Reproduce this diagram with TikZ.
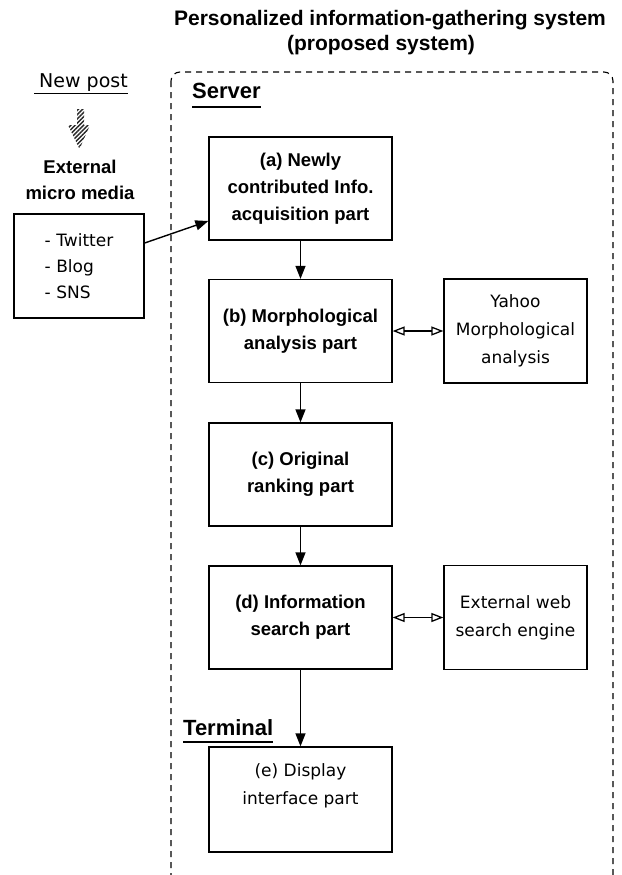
\documentclass[tikz,border=0pt]{standalone}
\usepackage{fontspec}
\setmainfont{Liberation Sans}
\newfontfamily\regfont{DejaVu Sans}
\usetikzlibrary{arrows.meta,patterns.meta}
\newcommand\btxt{\fontsize{18.5}{27}\selectfont\bfseries}
\newcommand\rtxt{\regfont\fontsize{17}{28}\selectfont}
\begin{document}
\begin{tikzpicture}[x=1pt,y=-1pt,
  ttl/.style={font=\fontsize{21}{25}\selectfont\bfseries, inner sep=0pt},
  hdr/.style={font=\fontsize{22}{26}\selectfont\bfseries, inner sep=0pt},
  mainbox/.style={draw, line width=1.3pt, minimum width=183pt, minimum height=103pt, inner sep=0pt, align=center, font=\btxt},
  sidebox/.style={draw, line width=1.3pt, minimum width=143pt, minimum height=104pt, inner sep=0pt, align=center, font=\rtxt},
  arr/.style={line width=1.4pt, -{Triangle[length=13pt,width=10pt]}},
  darr/.style={line width=1.3pt, {Triangle[open,length=12pt,width=9pt]}-{Triangle[open,length=12pt,width=9pt]}},
  frame/.style={line width=1.1pt, dash pattern=on 6pt off 5pt, rounded corners=9pt}
]
\clip (0,0) rectangle (621,875);
\fill[white] (0,0) rectangle (621,875);

% title
\node[ttl] (t1) at (390,20) {Personalized information-gathering system};
\node[ttl] (t2) at (381,45) {(proposed system)};

% dashed system frame
\draw[frame] (171,72) rectangle (613,888);

% headers
\node[hdr, anchor=base west] (server) at (192,98) {Server};
\draw[line width=2.5pt] ([yshift=-9pt]server.base west) -- ([yshift=-9pt]server.base east);
\node[hdr, anchor=base west] (terminal) at (183,735) {Terminal};
\draw[line width=2.5pt] ([yshift=-7pt]terminal.base west) -- ([yshift=-7pt]terminal.base east);

% left column
\node[font=\regfont\fontsize{19}{24}\selectfont, inner sep=0pt, anchor=base] (newpost) at (83.5,88) {New post};
\draw[line width=0.9pt] ([xshift=-5pt,yshift=-5pt]newpost.base west) -- ([yshift=-5pt]newpost.base east);
\fill[pattern={Lines[angle=45,distance=3pt,line width=1.5pt]}, pattern color=black!85]
  (77,109) -- (84,109) -- (84,125) -- (90,125) -- (79.5,149) -- (68,125) -- (77,125) -- cycle;
\node[font=\fontsize{18.5}{26}\selectfont\bfseries, align=center, inner sep=0pt] (ext) at (80,180) {External\\micro media};
\node[draw, line width=1.3pt, minimum width=130pt, minimum height=104pt, inner sep=0pt, align=left, font=\regfont\fontsize{17}{26}\selectfont] (lb) at (79,266) {- Twitter\\- Blog\\- SNS};

% main boxes
\node[mainbox] (a) at (300.5,188.5) {(a) Newly\\contributed Info.\\acquisition part};
\node[mainbox] (b) at (300.5,331) {(b) Morphological\\analysis part};
\node[mainbox] (c) at (300.5,474.5) {(c) Original\\ranking part};
\node[mainbox] (d) at (300.5,617.5) {(d) Information\\search part};
\node[mainbox, font=\rtxt, minimum height=105pt] (e) at (300.5,799.5) {(e) Display\\interface part\\[3pt]~};

% side boxes
\node[sidebox] (yahoo) at (515.5,331) {Yahoo\\Morphological\\analysis};
\node[sidebox] (web) at (515.5,617.5) {External web\\search engine};

% connectors
\draw[arr] ([yshift=23pt]lb.east) -- ([yshift=-32.5pt]a.west);
\draw[arr] (a) -- (b);
\draw[arr] (b) -- (c);
\draw[arr] (c) -- (d);
\draw[arr] (d) -- (e);
\draw[darr] (b) -- (yahoo);
\draw[darr] (d) -- (web);
\end{tikzpicture}
\end{document}
